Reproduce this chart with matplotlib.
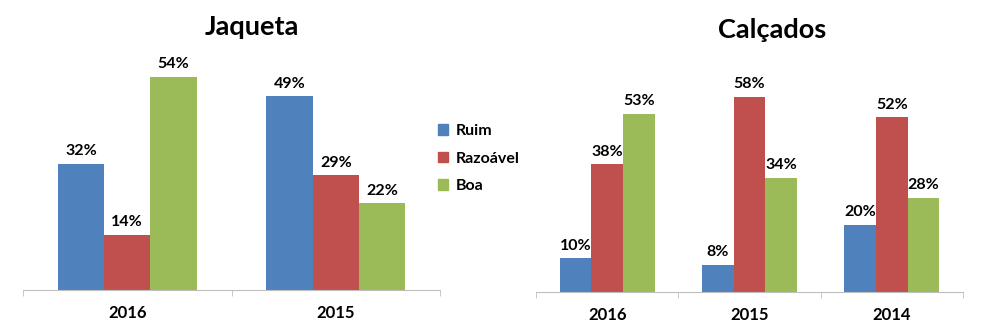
import matplotlib.pyplot as plt
import numpy as np
from matplotlib.patches import Patch

plt.rcParams['font.family'] = ['Lato', 'DejaVu Sans']
plt.rcParams['font.weight'] = 'bold'

series = ['Ruim', 'Razoável', 'Boa']
cores = ['#4F81BD', '#C0504D', '#9BBB59']

anos_jaqueta = ['2016', '2015']
ruim_jaqueta = [32, 49]
razoavel_jaqueta = [14, 29]
boa_jaqueta = [54, 22]

anos_calcados = ['2016', '2015', '2014']
ruim_calcados = [10, 8, 20]
razoavel_calcados = [38, 58, 52]
boa_calcados = [53, 34, 28]


def grafico_barras(ax, categorias, valores, ymax):
    n = len(categorias)
    x = np.arange(n)
    largura = 1 / 4.5  # gap de 150% entre grupos
    for i, (vals, cor) in enumerate(zip(valores, cores)):
        pos = x + (i - 1) * largura
        barras = ax.bar(pos, vals, largura, color=cor)
        for b, v in zip(barras, vals):
            ax.annotate(f'{v}%', (b.get_x() + b.get_width() / 2, v),
                        xytext=(0, 4), textcoords='offset points',
                        ha='center', va='bottom', fontsize=11.5, fontweight='bold')
    ax.set_xlim(-0.5, n - 0.5)
    ax.set_ylim(0, ymax)
    ax.set_xticks(x)
    ax.set_xticklabels(categorias, fontsize=12, fontweight='bold')
    ax.set_xticks(np.arange(-0.5, n), minor=True)
    ax.tick_params(axis='x', which='major', length=0, pad=11)
    ax.tick_params(axis='x', which='minor', length=4, color='#bfbfbf', direction='out')
    ax.set_yticks([])
    for lado in ['top', 'left', 'right']:
        ax.spines[lado].set_visible(False)
    ax.spines['bottom'].set_color('#bfbfbf')


fig = plt.figure(figsize=(9.99, 3.24), dpi=100)
ax1 = fig.add_axes([0.023, 0.105, 0.4175, 0.7315])
ax2 = fig.add_axes([0.5365, 0.099, 0.4275, 0.726])

grafico_barras(ax1, anos_jaqueta, [ruim_jaqueta, razoavel_jaqueta, boa_jaqueta], 60)
grafico_barras(ax2, anos_calcados, [ruim_calcados, razoavel_calcados, boa_calcados], 70)

fig.text(0.252, 0.918, 'Jaqueta', ha='center', va='center', fontsize=19.5, fontweight='bold')
fig.text(0.773, 0.906, 'Calçados', ha='center', va='center', fontsize=19.5, fontweight='bold')

handles = [Patch(color=c, label=s) for s, c in zip(series, cores)]
fig.legend(handles=handles, loc='center left', bbox_to_anchor=(0.424, 0.51),
           frameon=False, fontsize=11.5, handlelength=0.65, handleheight=0.65,
           handletextpad=0.45, labelspacing=0.85)

fig.savefig('out.png', dpi=100)
